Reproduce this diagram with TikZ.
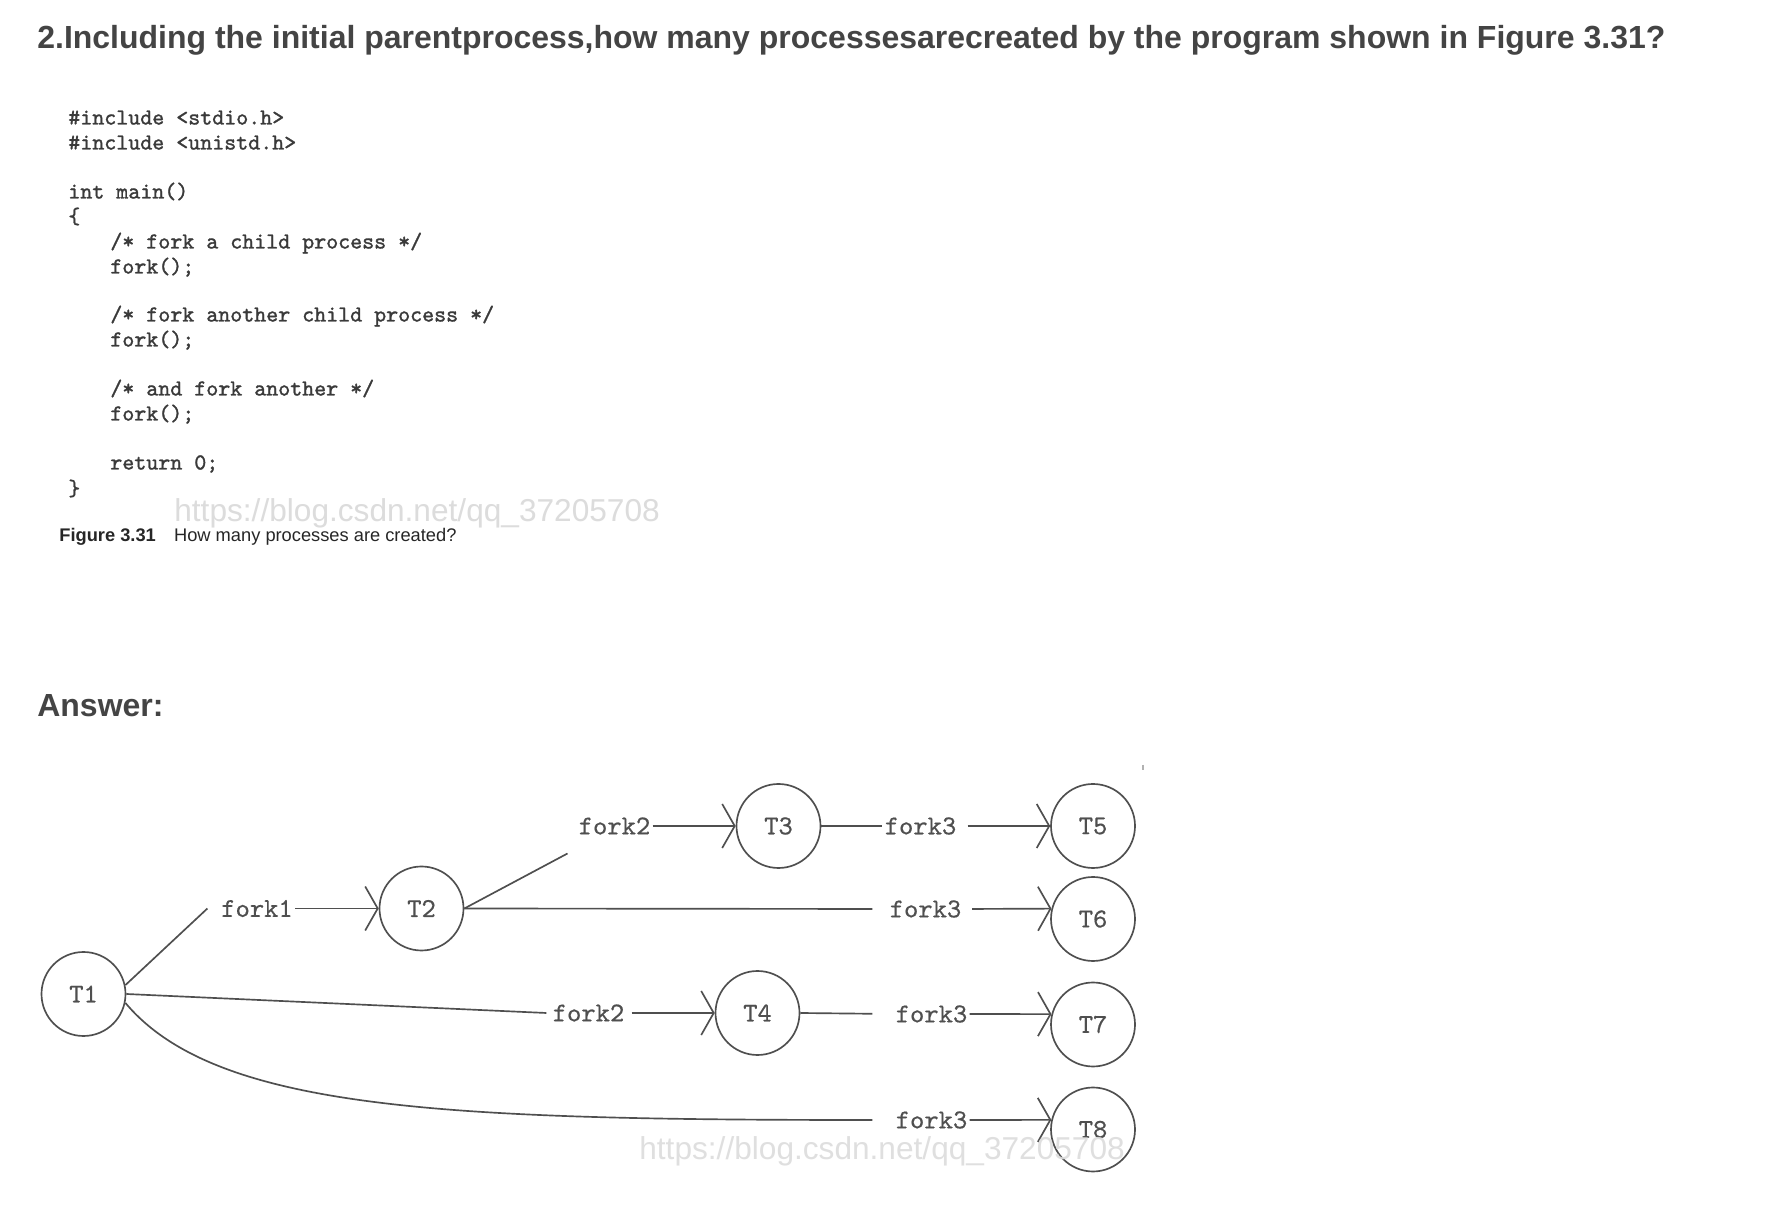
\documentclass[tikz,border=0pt]{standalone}
\usepackage{fontspec}
\usepackage{xcolor}
\usepackage{tikz}
\usetikzlibrary{arrows.meta}
\newfontfamily\headfont{Liberation Sans}
\newfontfamily\codefont{lmmono10-regular.otf}[FakeBold=1.3]
\newfontfamily\treefont{lmmono10-regular.otf}[FakeBold=0.5]

\definecolor{ink}{HTML}{4F4F4F}
\definecolor{codeink}{HTML}{3A3A3A}
\definecolor{headink}{HTML}{444444}
\definecolor{wmgray}{HTML}{DCDCDC}

\begin{document}
\begin{tikzpicture}[
        proc/.style     = {circle, draw=ink, line width=0.95pt, minimum size=1.68cm, inner sep=0pt, text=ink, font=\treefont\fontsize{15.5}{18}\selectfont},
        forklbl/.style  = {inner sep=0.4mm, text=ink, font=\treefont\fontsize{15.5}{18}\selectfont},
        link/.style     = {draw=ink, line width=0.95pt},
        spawn/.style    = {link, -{Straight Barb[length=2.5mm, width=8.8mm]}},
        codeline/.style = {anchor=base west, inner sep=0pt, text=codeink, font=\codefont\fontsize{13}{15}\selectfont},
        head/.style     = {anchor=base west, inner sep=0pt, text=headink, font=\headfont\bfseries\fontsize{18.2}{22}\selectfont},
        caption/.style  = {anchor=base west, inner sep=0pt, text=black!85, font=\headfont\fontsize{10.4}{12}\selectfont},
        wmark/.style    = {anchor=base west, inner sep=0pt, text=wmgray, font=\headfont\fontsize{18}{22}\selectfont}
    ]

    \path[use as bounding box, fill=white] (0,0) rectangle (35.6,24.48);

    % --- QUESTION ---
    \node[head] (title) at (0.74, 23.50) {2.Including the initial parentprocess,how many processesarecreated by the program shown in Figure 3.31?};

    % --- FIGURE 3.31: PROGRAM ---
    \node[codeline] (inc1)   at (1.36, 21.99) {\#include <stdio.h>};
    \node[codeline] (inc2)   at (1.36, 21.49) {\#include <unistd.h>};
    \node[codeline] (mainfn) at (1.36, 20.51) {int main()};
    \node[codeline] (lbrace) at (1.36, 20.01) {\{};
    \node[codeline] (cmt1)   at (2.20, 19.51) {/* fork a child process */};
    \node[codeline] (call1)  at (2.20, 19.01) {fork();};
    \node[codeline] (cmt2)   at (2.20, 18.05) {/* fork another child process */};
    \node[codeline] (call2)  at (2.20, 17.55) {fork();};
    \node[codeline] (cmt3)   at (2.20, 16.57) {/* and fork another */};
    \node[codeline] (call3)  at (2.20, 16.07) {fork();};
    \node[codeline] (ret)    at (2.20, 15.09) {return 0;};
    \node[codeline] (rbrace) at (1.36, 14.57) {\}};

    \node[wmark] (wm1) at (3.48, 14.05) {https://blog.csdn.net/qq\_37205708};
    \node[caption] (figcap) at (1.18, 13.65) {\textbf{Figure 3.31}\quad How many processes are created?};

    % --- ANSWER ---
    \node[head] (answer) at (0.74, 10.14) {Answer:};

    % --- PROCESS TREE ---
    \node[proc] (T1) at (1.67, 4.60) {T1};
    \node[proc] (T2) at (8.43, 6.31) {T2};
    \node[proc] (T3) at (15.57, 7.96) {T3};
    \node[proc] (T4) at (15.15, 4.22) {T4};
    \node[proc] (T5) at (21.86, 7.96) {T5};
    \node[proc] (T6) at (21.86, 6.10) {T6};
    \node[proc] (T7) at (21.86, 3.99) {T7};
    \node[proc] (T8) at (21.86, 1.89) {T8};

    \node[forklbl] (f1)  at (5.14, 6.31)  {fork1};
    \node[forklbl] (f2a) at (12.29, 7.96) {fork2};
    \node[forklbl] (f3a) at (18.41, 7.96) {fork3};
    \node[forklbl] (f3b) at (18.51, 6.30) {fork3};
    \node[forklbl] (f2b) at (11.77, 4.22) {fork2};
    \node[forklbl] (f3c) at (18.63, 4.20) {fork3};
    \node[forklbl] (f3d) at (18.63, 2.08) {fork3};

    \coordinate (br2) at (11.35, 7.41);

    % --- FORK CONNECTORS ---
    \draw[link] (T1.12) -- ([xshift=-2.3mm]f1.west);
    \draw[spawn] (f1.east) -- (T2.west);

    \draw[link] (T2.east) -- (br2);
    \draw[spawn] (f2a.east) -- (T3.west);
    \draw[link] (T3.east) -- (f3a.west);
    \draw[spawn, shorten <=1.8mm] (f3a.east) -- (T5.west);

    \draw[link, shorten >=3mm] (T2.east) -- (f3b.west);
    \draw[spawn, shorten <=1.7mm] (f3b.east) -- (T6.166);

    \draw[link] (T1.east) -- ([xshift=-0.8mm]f2b.west);
    \draw[spawn, shorten <=1mm] (f2b.east) -- (T4.west);
    \draw[link, shorten >=4.2mm] (T4.east) -- (f3c.west);
    \draw[spawn] (f3c.east) -- (T7.166);

    \draw[link, shorten >=4.2mm] (T1.-12) .. controls +(-50:2.8) and +(-9,0) .. (f3d.west);
    \draw[spawn] (f3d.east) -- (T8.167);

    \draw[black!30, line width=0.6pt] (22.86, 9.18) -- (22.86, 9.07);

    \node[wmark, opacity=0.9] (wm2) at (12.78, 1.30) {https://blog.csdn.net/qq\_37205708};

\end{tikzpicture}
\end{document}
